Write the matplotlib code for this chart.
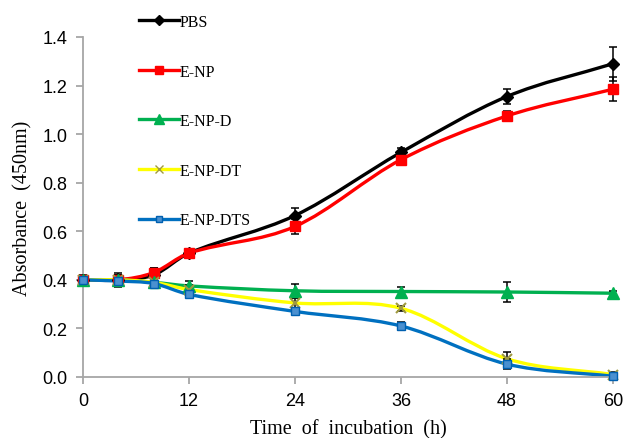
import numpy as np
import matplotlib
matplotlib.use("Agg")
import matplotlib.pyplot as plt
from matplotlib.path import Path
from matplotlib.patches import PathPatch
from matplotlib.lines import Line2D

hours = [0, 4, 8, 12, 24, 36, 48, 60]

pbs = [0.40, 0.40, 0.42, 0.51, 0.665, 0.925, 1.155, 1.29]
enp = [0.40, 0.40, 0.43, 0.51, 0.62, 0.895, 1.075, 1.185]
enp_d = [0.40, 0.40, 0.39, 0.375, 0.355, 0.352, 0.35, 0.345]
enp_dt = [0.40, 0.40, 0.39, 0.36, 0.305, 0.283, 0.075, 0.01]
enp_dts = [0.40, 0.395, 0.385, 0.34, 0.27, 0.21, 0.053, 0.003]

pbs_err = [0.02, 0.03, 0.03, 0.01, 0.03, 0.02, 0.03, 0.07]
enp_err = [0.01, 0.02, 0.02, 0.01, 0.03, 0.015, 0.02, 0.05]
enp_d_err = [0.01, 0.02, 0.02, 0.02, 0.03, 0.02, 0.04, 0.01]
enp_dt_err = [0.01, 0.02, 0.02, 0.02, 0.02, 0.01, 0.03, 0.01]
enp_dts_err = [0.01, 0.02, 0.02, 0.01, 0.01, 0.015, 0.02, 0.01]

labels = ["PBS", "E-NP", "E-NP-D", "E-NP-DT", "E-NP-DTS"]
series = [pbs, enp, enp_d, enp_dt, enp_dts]
errors = [pbs_err, enp_err, enp_d_err, enp_dt_err, enp_dts_err]
colors = ["#000000", "#ff0000", "#00b050", "#ffff00", "#0070c0"]
markers = ["D", "s", "^", "x", "s"]
mfc = ["#000000", "#ff0000", "#00b050", "#a09a40", "#4a90d0"]
mec = ["#000000", "#ff0000", "#00b050", "#a09a40", "#0060b0"]
msize = [6, 7, 8, 7, 6]


def smooth_path(x, y):
    # excel-like smoothed line: cubic hermite segments as bezier curves
    x = np.asarray(x, float)
    y = np.asarray(y, float)
    n = len(x)
    d = np.zeros(n)
    for i in range(n):
        lo = max(i - 1, 0)
        hi = min(i + 1, n - 1)
        d[i] = (y[hi] - y[lo]) / (x[hi] - x[lo])
    verts = [(x[0], y[0])]
    codes = [Path.MOVETO]
    for i in range(n - 1):
        h = x[i + 1] - x[i]
        verts += [(x[i] + h / 3, y[i] + d[i] * h / 3),
                  (x[i + 1] - h / 3, y[i + 1] - d[i + 1] * h / 3),
                  (x[i + 1], y[i + 1])]
        codes += [Path.CURVE4] * 3
    return Path(verts, codes)


fig = plt.figure(figsize=(6.24, 4.39), dpi=100)
ax = fig.add_axes([83 / 624, 1 - 378 / 439, 530 / 624, 340 / 439])

handles = []
for k in range(len(series)):
    ax.add_patch(PathPatch(smooth_path(hours, series[k]), facecolor="none",
                           edgecolor=colors[k], lw=2.4, zorder=2 + k * 0.1,
                           capstyle="round"))
    ax.errorbar(hours, series[k], yerr=errors[k], fmt="none", ecolor="black",
                elinewidth=1.1, capsize=3, capthick=1.1, zorder=3, clip_on=False)
    ax.plot(hours, series[k], linestyle="none", marker=markers[k], ms=msize[k],
            mfc=mfc[k], mec=mec[k], mew=1.5 if markers[k] == "x" else 1,
            zorder=4 + k * 0.1, clip_on=False)
    handles.append(Line2D([], [], color=colors[k], lw=2.4, marker=markers[k],
                          ms=msize[k] - 1, mfc=mfc[k], mec=mec[k], label=labels[k]))

ax.set_xlim(0, 60)
ax.set_ylim(0, 1.4)
ax.set_xticks([0, 12, 24, 36, 48, 60])
ax.set_yticks(np.arange(0, 1.41, 0.2))
ax.yaxis.set_major_formatter(matplotlib.ticker.FormatStrFormatter("%.1f"))

for s in ["top", "right"]:
    ax.spines[s].set_visible(False)
for s in ["left", "bottom"]:
    ax.spines[s].set_color("#a6a6a6")
    ax.spines[s].set_linewidth(1.3)
ax.tick_params(colors="#a6a6a6", length=5, width=1.3, labelcolor="black",
               labelsize=13, pad=6)
for lab in ax.get_xticklabels() + ax.get_yticklabels():
    lab.set_family("Liberation Sans")

ax.set_xlabel("Time  of  incubation  (h)", family="Liberation Serif",
              fontsize=14.5, labelpad=7)
ax.set_ylabel("Absorbance  (450nm)", family="Liberation Serif",
              fontsize=14.5, labelpad=7)

fig.legend(handles=handles, loc="upper left",
           bbox_to_anchor=(139 / 624, 1 - 15 / 439), frameon=False,
           borderpad=0, borderaxespad=0, handlelength=2.5, handletextpad=0.05,
           labelspacing=2.1, numpoints=1,
           prop={"family": "Liberation Serif", "size": 11.5})

fig.savefig("out.png", dpi=100)
